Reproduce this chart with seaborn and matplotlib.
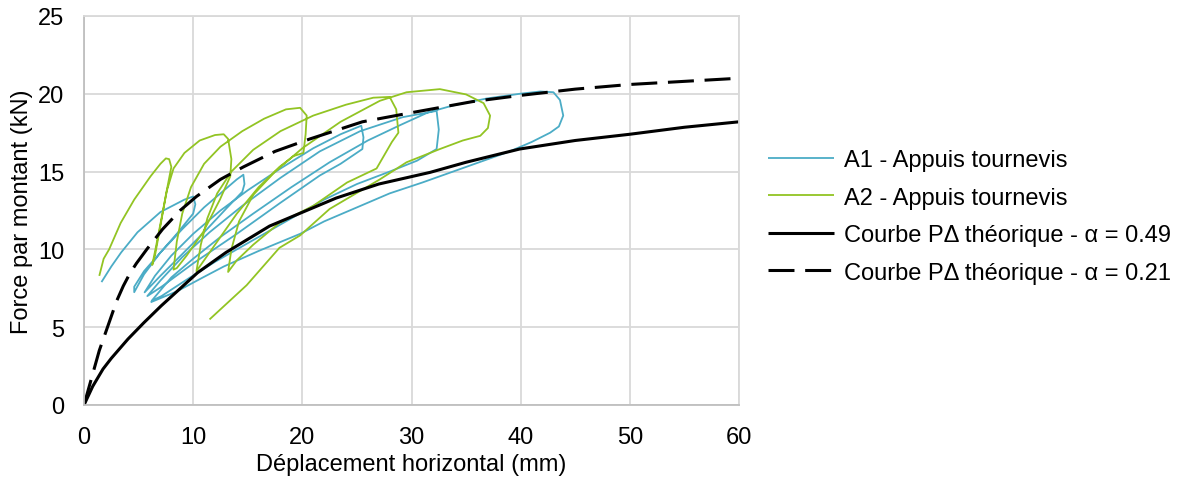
import matplotlib
matplotlib.use("Agg")
import matplotlib.pyplot as plt
import seaborn as sns
import pandas as pd

# ---------------- data ----------------
a1_x = [1.6, 2.5, 3.4, 4.9, 7.0, 9.2, 10.0, 10.2, 10.0,
        8.5, 7.0, 5.5, 4.6, 4.6,
        5.5, 7.0, 9.0, 11.0, 12.5, 14.0, 14.6, 14.7, 14.5,
        13.0, 11.0, 9.0, 7.0, 5.55,
        6.5, 8.0, 10.0, 12.5, 15.0, 18.0, 21.0, 23.5, 25.4, 25.6, 25.5,
        23.5, 21.6, 18.0, 14.0, 10.0, 7.1, 5.8,
        7.0, 9.0, 11.5, 14.5, 18.0, 21.6, 25.3, 29.2, 32.3, 32.5, 32.3,
        30.5, 28.0, 25.0, 22.0, 18.5, 15.0, 12.0, 9.5, 7.1, 6.2,
        8.0, 10.0, 12.5, 15.5, 19.0, 22.5, 26.0, 29.0, 31.5, 33.8, 36.9, 39.9, 41.8, 43.0, 43.6, 43.9, 43.5, 42.7,
        41.0, 39.0, 37.0, 35.0, 33.0, 31.0, 28.0, 25.0, 22.0, 19.8, 16.0, 12.8, 10.9, 8.5, 6.1]
a1_y = [7.9, 8.9, 9.8, 11.1, 12.4, 13.2, 13.4, 12.9, 12.3,
        11.0, 9.8, 8.6, 7.6, 7.25,
        8.4, 9.8, 11.3, 12.7, 13.6, 14.5, 14.8, 14.2, 13.7,
        12.6, 11.1, 9.7, 8.3, 7.24,
        8.3, 9.6, 11.0, 12.5, 13.8, 15.2, 16.5, 17.4, 17.95, 17.2, 16.45,
        15.5, 14.75, 13.0, 11.0, 9.1, 7.6, 7.0,
        8.0, 9.5, 11.1, 12.8, 14.6, 16.3, 17.6, 18.5, 18.9, 17.7, 16.45,
        15.7, 15.0, 14.2, 13.2, 11.8, 10.4, 9.2, 8.1, 7.0, 6.7,
        8.2, 9.4, 10.8, 12.3, 14.0, 15.6, 17.0, 18.0, 18.8, 19.25, 19.7, 20.0, 20.15, 20.1, 19.6, 18.6, 17.9, 17.5,
        16.9, 16.3, 15.8, 15.3, 14.8, 14.3, 13.6, 12.7, 11.8, 11.0, 9.9, 8.9, 8.2, 7.3, 6.6]

a2_x = [1.4, 1.8, 2.3, 3.36, 4.6, 6.1, 7.0, 7.5, 7.8, 8.0,
        7.5, 7.0, 6.5, 6.25,
        6.6, 7.1, 7.6, 8.2, 9.2, 10.6, 12.0, 12.8, 13.2, 13.5, 13.4,
        12.45, 10.9, 9.4, 8.5, 8.2,
        8.5, 9.0, 9.8, 11.0, 12.5, 14.5, 16.5, 18.5, 19.8, 20.4, 20.3, 20.1,
        19.2, 17.9, 16.0, 14.0, 12.3, 11.0, 10.3,
        10.7, 11.3, 12.2, 13.5, 15.5, 18.0, 21.0, 24.0, 26.5, 28.0, 28.6, 28.8, 28.2,
        26.8, 24.1, 21.0, 17.9, 15.5, 14.0, 13.2,
        13.5, 14.2, 15.5, 17.5, 20.0, 23.5, 27.1, 29.55, 32.6, 35.0, 36.6, 37.2, 37.0, 36.3,
        34.7, 32.6, 29.55, 27.1, 22.5, 19.8, 17.9, 14.9, 11.5]
a2_y = [8.3, 9.4, 10.0, 11.7, 13.2, 14.7, 15.5, 15.85, 15.8, 15.3,
        13.5, 11.5, 9.6, 9.0,
        10.2, 12.0, 13.8, 15.2, 16.2, 17.0, 17.35, 17.4, 17.1, 15.8, 14.7,
        13.2, 11.1, 9.6, 8.8, 8.7,
        10.5, 12.3, 14.0, 15.5, 16.6, 17.6, 18.4, 19.0, 19.1, 18.6, 17.4, 16.2,
        16.0, 15.3, 14.0, 12.3, 10.6, 9.3, 8.6,
        10.3, 12.0, 13.6, 15.0, 16.4, 17.6, 18.6, 19.3, 19.75, 19.8, 19.0, 17.5, 16.9,
        15.2, 14.3, 12.8, 11.7, 10.3, 9.3, 8.55,
        10.0, 11.8, 13.5, 15.0, 16.5, 18.2, 19.55, 20.1, 20.3, 19.96, 19.4, 18.6, 17.8, 17.3,
        17.0, 16.45, 15.6, 14.5, 12.6, 10.9, 10.1, 7.7, 5.5]

th049_x = [0, 0.8, 1.74, 2.5, 4.03, 5.5, 7.08, 10.4, 13.0, 17.0, 23.1, 27.0, 31.7, 35.0, 39.9, 45.0, 50.0, 55.0, 60.0]
th049_y = [0, 1.2, 2.31, 3.0, 4.24, 5.3, 6.38, 8.5, 9.8, 11.5, 13.3, 14.2, 14.95, 15.6, 16.45, 17.0, 17.4, 17.85, 18.2]

th021_x = [0, 0.4, 1.4, 2.5, 3.0, 3.6, 4.2, 4.8, 5.8, 7.2, 8.8, 10.3, 12.5, 14.6, 17.5, 20.7, 25.5, 30.1, 35.6, 40.0, 45.0, 50.0, 55.0, 60.0]
th021_y = [0, 1.0, 3.5, 5.7, 6.7, 7.65, 8.45, 9.1, 10.05, 11.3, 12.5, 13.4, 14.5, 15.3, 16.3, 17.1, 18.2, 18.8, 19.5, 19.9, 20.3, 20.6, 20.8, 21.0]

labels = ["A1 - Appuis tournevis", "A2 - Appuis tournevis",
          "Courbe P\u0394 théorique - \u03b1 = 0.49", "Courbe P\u0394 théorique - \u03b1 = 0.21"]
x_ticks = [0, 10, 20, 30, 40, 50, 60]
y_ticks = [0, 5, 10, 15, 20, 25]

# ---------------- style ----------------
sns.set_theme(style="white")
plt.rcParams['font.family'] = ['Liberation Sans', 'DejaVu Sans']
plt.rcParams['text.color'] = 'black'
plt.rcParams['axes.labelcolor'] = 'black'
FS = 17
teal = "#4BACC6"
green = "#92C423"
grid_c = "#D9D9D9"

fig = plt.figure(figsize=(11.85, 4.81), dpi=100)
ax = fig.add_axes([84/1185, 1-406/481, (739-84)/1185, (406-17)/481])

def draw(xs, ys, color, lw, label, dashes=None):
    df = pd.DataFrame({"x": xs, "y": ys})
    sns.lineplot(data=df, x="x", y="y", sort=False, estimator=None, ax=ax,
                 color=color, lw=lw, label=label)
    line = ax.lines[-1]
    if dashes:
        line.set_dashes(dashes)
    line.set_solid_capstyle("butt")
    line.set_dash_capstyle("butt")
    line.set_solid_joinstyle("round")
    return line

draw(a1_x, a1_y, teal, 1.3, labels[0])
draw(a2_x, a2_y, green, 1.3, labels[1])
draw(th049_x, th049_y, "black", 2.2, labels[2])
draw(th021_x, th021_y, "black", 2.2, labels[3], dashes=(8.5, 3.5))

ax.set_xlim(0, 60)
ax.set_ylim(0, 25)
ax.set_xticks(x_ticks)
ax.set_yticks(y_ticks)
ax.grid(True, color=grid_c, lw=1.3)
ax.set_axisbelow(True)
for s in ax.spines.values():
    s.set_color(grid_c)
    s.set_linewidth(1.3)
ax.spines['left'].set_color("#BFBFBF")
ax.spines['bottom'].set_color("#BFBFBF")
ax.tick_params(axis='both', length=0, labelsize=FS, colors="#000000")
ax.tick_params(axis='x', pad=15)
ax.tick_params(axis='y', pad=14)
ax.set_xlabel("Déplacement horizontal (mm)", fontsize=FS, labelpad=4, color="black")
ax.set_ylabel("Force par montant (kN)", fontsize=FS, labelpad=4, color="black")

leg = ax.legend(loc="center left", bbox_to_anchor=(1.012, 0.485), frameon=False,
                fontsize=FS, handlelength=2.8, handletextpad=0.42, labelspacing=0.66)
for t in leg.get_texts():
    t.set_color("black")

fig.savefig("out.png", dpi=100)
